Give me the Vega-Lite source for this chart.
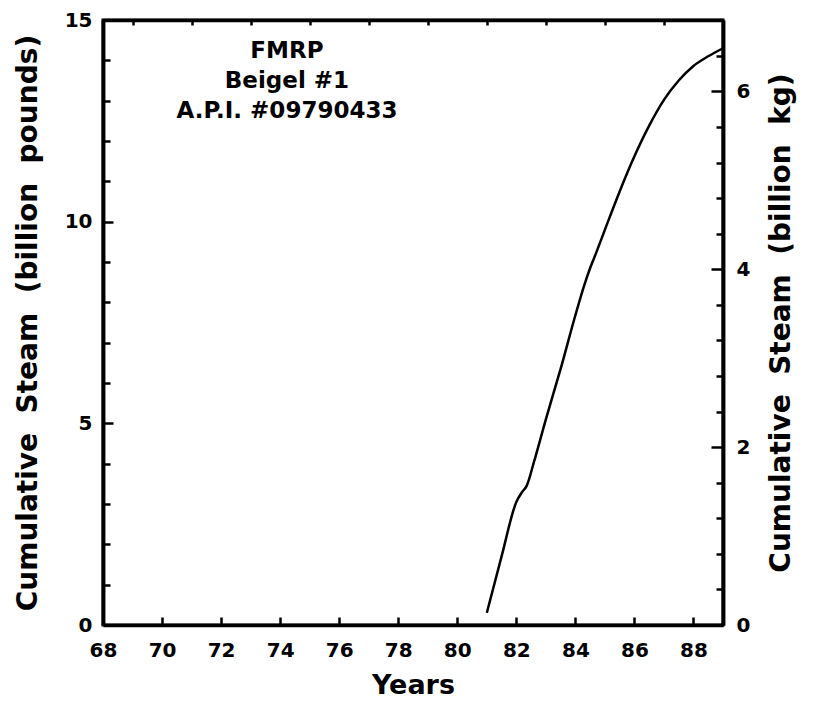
{
  "$schema": "https://vega.github.io/schema/vega-lite/v6.json",
  "width": 620,
  "height": 605,
  "autosize": "none",
  "padding": {"left": 103, "top": 20, "right": 90, "bottom": 79},
  "background": "white",
  "config": {
    "view": {"stroke": "black", "strokeWidth": 3},
    "axis": {
      "labelFont": "DejaVu Sans",
      "labelFontWeight": "bold",
      "labelFontSize": 20,
      "labelColor": "black",
      "labelFlush": false,
      "labelOverlap": false,
      "titleFont": "DejaVu Sans",
      "titleFontWeight": "bold",
      "titleColor": "black",
      "titleFontSize": 28,
      "domainColor": "black",
      "domainWidth": 3.5,
      "tickColor": "black",
      "tickWidth": 2.5,
      "grid": false
    }
  },
  "datasets": {
    "steam": [
      {"year": 81.0, "lb": 0.3},
      {"year": 81.5, "lb": 1.7},
      {"year": 82.0, "lb": 3.05},
      {"year": 82.2, "lb": 3.3},
      {"year": 82.35, "lb": 3.45},
      {"year": 82.6, "lb": 4.05},
      {"year": 83.0, "lb": 5.1},
      {"year": 83.5, "lb": 6.35},
      {"year": 84.0, "lb": 7.68},
      {"year": 84.3, "lb": 8.42},
      {"year": 84.5, "lb": 8.85},
      {"year": 84.7, "lb": 9.22},
      {"year": 85.0, "lb": 9.8},
      {"year": 85.5, "lb": 10.75},
      {"year": 86.0, "lb": 11.62},
      {"year": 86.5, "lb": 12.38},
      {"year": 87.0, "lb": 13.02},
      {"year": 87.5, "lb": 13.5},
      {"year": 88.0, "lb": 13.86},
      {"year": 88.5, "lb": 14.1},
      {"year": 89.0, "lb": 14.3}
    ],
    "label": [
      {"lines": ["FMRP", "Beigel\u00a0#1", "A.P.I.\u00a0#09790433"]}
    ]
  },
  "layer": [
    {
      "data": {"name": "steam"},
      "mark": {"type": "line", "color": "black", "strokeWidth": 2.5, "interpolate": "monotone"},
      "encoding": {
        "x": {
          "field": "year", "type": "quantitative",
          "scale": {"domain": [68, 89], "nice": false, "zero": false},
          "axis": {
            "values": [68, 70, 72, 74, 76, 78, 80, 82, 84, 86, 88],
            "tickSize": -8,
            "labelPadding": 23,
            "title": "Years",
            "titleFontSize": 27,
            "titlePadding": 12
          }
        },
        "y": {
          "field": "lb", "type": "quantitative",
          "scale": {"domain": [0, 15], "nice": false},
          "axis": {
            "orient": "left",
            "values": [0, 5, 10, 15],
            "tickSize": -10,
            "labelPadding": 21,
            "title": "Cumulative\u00a0\u00a0Steam\u00a0\u00a0(billion\u00a0\u00a0pounds)",
            "titlePadding": 22
          }
        }
      }
    },
    {
      "data": {"name": "steam"},
      "mark": {"type": "line", "opacity": 0},
      "encoding": {
        "x": {
          "field": "year", "type": "quantitative",
          "scale": {"domain": [68, 89], "nice": false, "zero": false},
          "axis": {
            "values": [69, 71, 73, 75, 77, 79, 81, 83, 85, 87],
            "tickSize": -5,
            "labels": false,
            "title": null
          }
        },
        "y": {
          "field": "lb", "type": "quantitative",
          "scale": {"domain": [0, 15], "nice": false},
          "axis": {
            "orient": "left",
            "values": [1, 2, 3, 4, 6, 7, 8, 9, 11, 12, 13, 14],
            "tickSize": -7,
            "labels": false,
            "title": null
          }
        }
      }
    },
    {
      "data": {"name": "label"},
      "mark": {"type": "rule", "opacity": 0},
      "encoding": {
        "y": {
          "datum": 0, "type": "quantitative",
          "scale": {"domain": [0, 6.80388], "nice": false},
          "axis": {
            "orient": "right",
            "values": [0, 2, 4, 6],
            "tickSize": -12,
            "labelPadding": 25,
            "title": "Cumulative\u00a0\u00a0Steam\u00a0\u00a0(billion\u00a0\u00a0kg)",
            "titleAngle": 270,
            "titleBaseline": "top",
            "titlePadding": 18
          }
        }
      }
    },
    {
      "data": {"name": "label"},
      "mark": {"type": "rule", "opacity": 0},
      "encoding": {
        "y": {
          "datum": 0, "type": "quantitative",
          "scale": {"domain": [0, 6.80388], "nice": false},
          "axis": {
            "orient": "right",
            "values": [0.4, 0.8, 1.2, 1.6, 2.4, 2.8, 3.2, 3.6, 4.4, 4.8, 5.2, 5.6, 6.4],
            "tickSize": -7,
            "labels": false,
            "title": null
          }
        }
      }
    },
    {
      "data": {"name": "label"},
      "mark": {
        "type": "text",
        "font": "DejaVu Sans",
        "fontWeight": "bold",
        "fontSize": 23,
        "lineHeight": 30,
        "baseline": "top",
        "align": "center",
        "color": "black"
      },
      "encoding": {
        "x": {"datum": 74.23, "type": "quantitative", "scale": {"domain": [68, 89], "nice": false, "zero": false}, "axis": null},
        "y": {"datum": 14.5, "type": "quantitative", "scale": {"domain": [0, 15], "nice": false}, "axis": null},
        "text": {"field": "lines"}
      }
    }
  ],
  "resolve": {"scale": {"x": "independent", "y": "independent"}}
}
